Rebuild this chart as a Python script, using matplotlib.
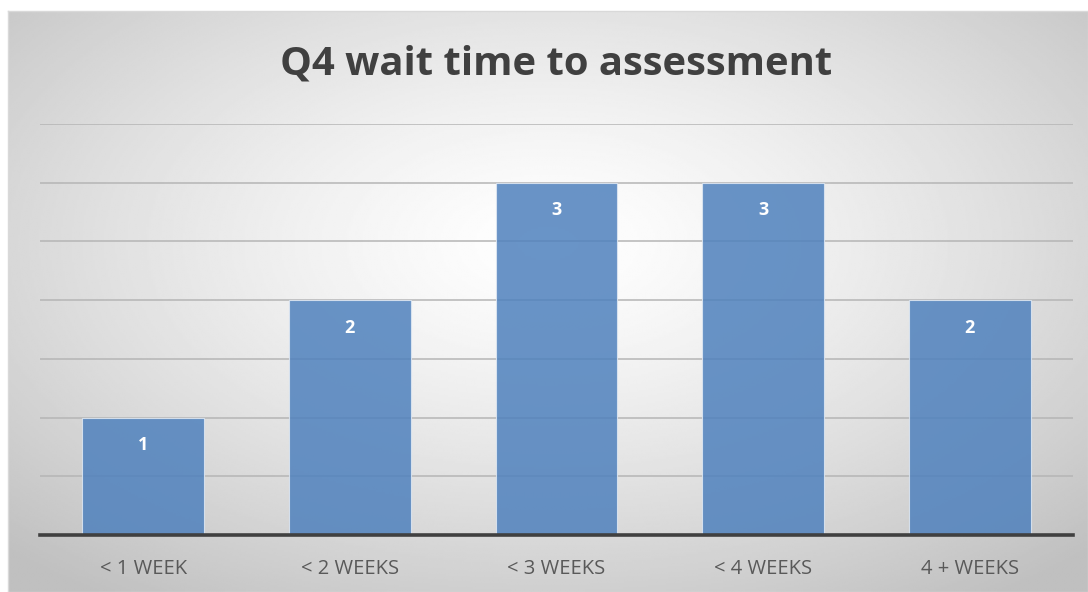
import numpy as np
import matplotlib.pyplot as plt

categories = ["< 1 WEEK", "< 2 WEEKS", "< 3 WEEKS", "< 4 WEEKS", "4 + WEEKS"]
counts = [1, 2, 3, 3, 2]

fig = plt.figure(figsize=(10.88, 5.92), dpi=100)

# radial gradient background (chart area starts a bit in from the top-left)
bg = fig.add_axes([8 / 1088, 0, 1 - 8 / 1088, 581 / 592], zorder=0)
yy, xx = np.mgrid[0:1:300j, 0:1:600j]
r = np.sqrt(((xx - 0.5) / 0.72) ** 2 + ((yy - 0.6) / 0.75) ** 2)
shade = 1.0 - 0.25 * np.clip(r, 0, 1) ** 1.3
bg.imshow(shade, cmap="gray", vmin=0, vmax=1, extent=[0, 1, 0, 1],
          aspect="auto", origin="lower", interpolation="bilinear")
bg.set_xlim(0, 1)
bg.set_ylim(0, 1)
bg.set_xticks([])
bg.set_yticks([])
for s in bg.spines.values():
    s.set_color("#d9d9d9")
    s.set_linewidth(1)

ax = fig.add_axes([40 / 1088, 57 / 592, 1033 / 1088, 411 / 592], zorder=1)
ax.patch.set_alpha(0)

x = np.arange(len(categories))
bars = ax.bar(x, counts, width=0.59, color="#4f81bd", alpha=0.85,
              edgecolor="#dfe8f3", linewidth=0.8, zorder=2)

ax.set_xlim(-0.5, 4.5)
ax.set_ylim(0, 3.5)
ax.set_yticks(np.arange(0.5, 3.6, 0.5))
ax.yaxis.grid(True, color="#b5b5b5", linewidth=1.1, zorder=1)
ax.set_axisbelow(True)
ax.tick_params(axis="y", left=False, labelleft=False)
ax.tick_params(axis="x", length=0, pad=17, labelsize=14.5, labelcolor="#595959")
ax.set_xticks(x)
ax.set_xticklabels(categories, family="Open Sans")

for s in ["top", "right", "left"]:
    ax.spines[s].set_visible(False)
ax.spines["bottom"].set_color("#404040")
ax.spines["bottom"].set_linewidth(2.6)
ax.spines["bottom"].set_zorder(3)

for b, v in zip(bars, counts):
    ax.annotate(str(v), (b.get_x() + b.get_width() / 2, v),
                xytext=(0, -20), textcoords="offset points", ha="center",
                va="center", color="white", fontsize=13, fontweight="bold",
                family="Open Sans", zorder=4)

fig.text(556 / 1088, 1 - 64 / 592, "Q4 wait time to assessment", ha="center",
         va="center", fontsize=28.8, fontweight="bold", color="#404040",
         family="Open Sans", zorder=5)

fig.savefig("out.png", dpi=100)
